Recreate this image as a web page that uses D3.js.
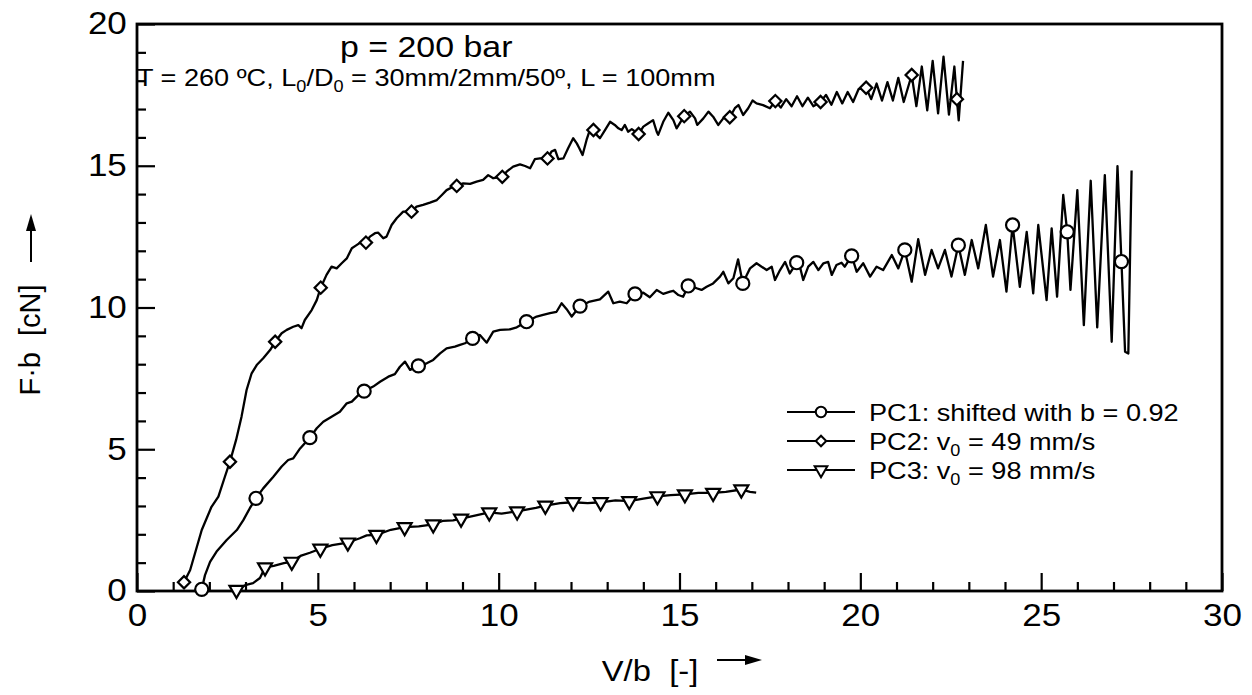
<!DOCTYPE html>
<html><head><meta charset="utf-8">
<script src="https://cdn.jsdelivr.net/npm/d3@7"></script>
<style>
body{margin:0;background:#fff;}
svg{display:block;font-family:"Liberation Sans",Arial,Helvetica,sans-serif;}
</style></head>
<body>
<svg id="chart" width="1252" height="695"></svg>
<script>
// ---------------- data ----------------
const xTicks = [0,5,10,15,20,25,30];
const yTicks = [0,5,10,15,20];
const legendLabels = ["PC1: shifted with b = 0.92","PC2: v","PC3: v"];

const pc1Line = [[1.79,0.06],[1.88,0.56],[2.02,1.03],[2.20,1.39],[2.48,1.80],[2.76,2.15],[2.94,2.50],[3.12,2.92],[3.29,3.27],[3.49,3.62],[3.77,4.03],[4.00,4.39],[4.18,4.62],[4.32,4.68],[4.51,5.03],[4.78,5.41],[4.97,5.74],[5.15,5.97],[5.38,6.15],[5.61,6.32],[5.80,6.62],[5.94,6.68],[6.12,6.91],[6.28,7.05],[6.53,7.21],[6.72,7.38],[6.95,7.56],[7.13,7.65],[7.27,7.91],[7.41,8.09],[7.55,7.80],[7.78,7.94],[8.01,8.03],[8.19,8.15],[8.38,8.38],[8.56,8.56],[8.79,8.62],[8.93,8.68],[9.07,8.74],[9.28,8.91],[9.48,9.03],[9.67,8.76],[9.85,9.15],[10.04,9.21],[10.31,9.23],[10.50,9.30],[10.77,9.50],[11.05,9.68],[11.23,9.74],[11.42,9.80],[11.60,9.85],[11.74,10.15],[11.88,9.94],[12.02,9.68],[12.25,10.05],[12.52,10.21],[12.80,10.29],[13.03,10.56],[13.17,10.15],[13.35,10.21],[13.54,10.15],[13.77,10.48],[14.00,10.52],[14.18,10.36],[14.37,10.62],[14.55,10.48],[14.74,10.56],[14.83,10.59],[14.97,10.44],[15.10,10.38],[15.24,10.76],[15.47,10.68],[15.61,10.62],[15.75,10.73],[15.93,10.85],[16.12,11.09],[16.21,11.26],[16.35,10.85],[16.49,11.03],[16.62,11.70],[16.75,10.85],[16.86,11.15],[16.95,11.38],[17.13,11.56],[17.41,11.32],[17.55,11.44],[17.64,10.97],[17.78,11.32],[17.92,11.61],[18.05,11.20],[18.24,11.58],[18.33,11.44],[18.42,10.97],[18.56,11.44],[18.70,11.61],[18.84,11.32],[18.98,11.56],[19.11,11.61],[19.21,11.15],[19.34,11.50],[19.48,11.58],[19.57,11.44],[19.76,11.82],[19.90,11.26],[20.08,11.56],[20.27,11.09],[20.45,11.44],[20.63,11.32],[20.87,11.85],[21.05,11.38],[21.23,12.03],[21.42,10.91],[21.60,12.41],[21.79,11.15],[21.97,12.03],[22.15,11.38],[22.34,12.03],[22.52,11.09],[22.71,12.20],[22.89,11.15],[23.08,12.38],[23.26,11.38],[23.47,12.91],[23.67,11.09],[23.86,12.38],[24.04,10.56],[24.21,12.91],[24.41,10.73],[24.60,12.67],[24.78,10.50],[24.92,12.91],[25.15,10.26],[25.29,12.79],[25.44,10.38],[25.61,13.97],[25.72,12.67],[25.81,10.62],[26.00,14.14],[26.18,9.38],[26.37,14.47],[26.55,9.30],[26.76,14.67],[26.95,8.79],[27.11,14.99],[27.22,11.62],[27.32,8.44],[27.41,8.38],[27.50,14.83]];
const pc1Markers = [[1.79,0.06],[3.29,3.27],[4.78,5.41],[6.28,7.05],[7.78,7.94],[9.28,8.91],[10.77,9.50],[12.25,10.05],[13.77,10.48],[15.24,10.76],[16.75,10.85],[18.24,11.58],[19.76,11.82],[21.23,12.03],[22.71,12.20],[24.21,12.91],[25.72,12.67],[27.22,11.62]];

const pc2Line = [[1.30,0.31],[1.47,0.74],[1.79,2.15],[2.06,2.97],[2.25,3.33],[2.43,4.03],[2.57,4.56],[2.74,5.33],[2.89,6.15],[3.03,7.09],[3.17,7.68],[3.31,7.97],[3.49,8.21],[3.68,8.50],[3.82,8.79],[4.00,9.09],[4.14,9.21],[4.32,9.32],[4.46,9.38],[4.55,9.27],[4.64,9.56],[4.83,9.91],[4.97,10.26],[5.08,10.70],[5.24,11.15],[5.38,11.44],[5.52,11.38],[5.66,11.56],[5.80,11.73],[5.94,12.09],[6.07,12.20],[6.21,12.32],[6.33,12.29],[6.44,12.50],[6.58,12.62],[6.67,12.64],[6.81,12.44],[6.90,12.50],[7.04,12.91],[7.18,13.15],[7.36,13.38],[7.59,13.38],[7.73,13.56],[7.91,13.62],[8.10,13.70],[8.29,13.79],[8.43,13.97],[8.56,14.14],[8.74,14.26],[8.84,14.29],[9.02,14.38],[9.21,14.36],[9.39,14.44],[9.57,14.50],[9.71,14.67],[9.85,14.56],[10.10,14.61],[10.22,14.79],[10.40,14.97],[10.59,15.05],[10.73,14.99],[10.87,14.91],[11.00,15.23],[11.14,15.26],[11.35,15.26],[11.46,15.50],[11.56,15.56],[11.65,15.23],[11.79,15.26],[11.92,15.62],[12.06,15.97],[12.16,15.79],[12.23,15.62],[12.32,15.38],[12.43,15.91],[12.52,16.26],[12.62,16.26],[12.71,16.09],[12.80,15.97],[12.94,16.26],[13.08,16.55],[13.21,16.44],[13.31,16.32],[13.40,16.26],[13.49,16.44],[13.58,16.20],[13.68,16.29],[13.87,16.12],[14.00,16.38],[14.14,16.50],[14.27,16.61],[14.37,16.20],[14.41,16.09],[14.55,16.55],[14.69,16.87],[14.83,16.61],[14.92,16.32],[15.06,16.61],[15.13,16.75],[15.29,16.91],[15.43,16.67],[15.49,16.44],[15.66,16.67],[15.80,16.91],[15.93,16.73],[16.07,16.44],[16.21,16.67],[16.39,16.71],[16.53,17.03],[16.63,17.14],[16.76,16.79],[16.90,17.03],[17.02,17.30],[17.13,17.20],[17.31,17.14],[17.50,17.03],[17.65,17.28],[17.80,17.05],[17.95,17.35],[18.10,17.10],[18.25,17.45],[18.40,17.10],[18.55,17.40],[18.70,17.10],[18.90,17.25],[19.05,17.50],[19.20,17.15],[19.35,17.60],[19.50,17.20],[19.65,17.60],[19.80,17.25],[19.95,17.70],[20.16,17.75],[20.30,17.35],[20.45,17.90],[20.60,17.30],[20.75,17.95],[20.90,17.30],[21.05,18.10],[21.20,17.25],[21.42,18.20],[21.55,17.10],[21.70,18.50],[21.85,16.95],[22.00,18.70],[22.15,16.85],[22.30,18.85],[22.45,16.80],[22.60,18.50],[22.67,17.35],[22.72,16.60],[22.84,18.70]];
const pc2Markers = [[1.30,0.31],[2.57,4.56],[3.82,8.79],[5.08,10.70],[6.33,12.29],[7.59,13.38],[8.84,14.29],[10.10,14.61],[11.35,15.26],[12.62,16.26],[13.87,16.12],[15.13,16.75],[16.39,16.71],[17.65,17.28],[18.90,17.25],[20.16,17.75],[21.42,18.20],[22.67,17.35]];

const pc3Line = [[2.75,0.04],[3.02,0.22],[3.21,0.28],[3.40,0.46],[3.54,0.83],[3.78,0.89],[4.06,0.98],[4.28,1.03],[4.54,1.25],[4.78,1.35],[5.07,1.49],[5.40,1.62],[5.83,1.71],[6.16,1.86],[6.35,1.96],[6.62,1.98],[7.02,2.16],[7.40,2.25],[7.79,2.28],[8.19,2.35],[8.45,2.47],[8.74,2.49],[8.96,2.55],[9.31,2.65],[9.74,2.77],[10.08,2.73],[10.51,2.81],[10.84,2.89],[11.03,2.93],[11.29,3.01],[11.70,3.10],[12.06,3.13],[12.46,3.10],[12.82,3.13],[13.23,3.20],[13.61,3.17],[14.00,3.26],[14.39,3.34],[14.75,3.38],[15.15,3.41],[15.52,3.46],[15.93,3.46],[16.28,3.50],[16.71,3.58],[16.95,3.50],[17.12,3.47]];
const pc3Markers = [[2.75,0.04],[3.54,0.83],[4.28,1.03],[5.07,1.49],[5.83,1.71],[6.62,1.98],[7.40,2.25],[8.19,2.35],[8.96,2.55],[9.74,2.77],[10.51,2.81],[11.29,3.01],[12.06,3.13],[12.82,3.13],[13.61,3.17],[14.39,3.34],[15.15,3.41],[15.93,3.46],[16.71,3.58]];

// ---------------- drawing ----------------
const svg = d3.select("#chart");
const L = 137, R = 1222, T = 24, B = 591;
const SX = 1.13; // horizontal text stretch of the original
const x = d3.scaleLinear().domain([0,30]).range([L,R]);
const y = d3.scaleLinear().domain([0,20]).range([B,T]);

// minor ticks
const xMinor = d3.range(0,31,1).filter(v=>v%5!==0);
const yMinor = d3.range(0,21,1).filter(v=>v%5!==0);

const gxm = svg.append("g").attr("transform",`translate(0,${B})`)
  .call(d3.axisBottom(x).tickValues(xMinor).tickSize(-9).tickFormat(""));
const gym = svg.append("g").attr("transform",`translate(${L},0)`)
  .call(d3.axisLeft(y).tickValues(yMinor).tickSize(-9).tickFormat(""));
const gx = svg.append("g").attr("transform",`translate(0,${B})`)
  .call(d3.axisBottom(x).tickValues(xTicks).tickSize(-18).tickPadding(13).tickFormat(d3.format("d")));
const gy = svg.append("g").attr("transform",`translate(${L},0)`)
  .call(d3.axisLeft(y).tickValues(yTicks).tickSize(-18).tickPadding(9).tickFormat(d3.format("d")));
[gxm,gym,gx,gy].forEach(g=>{
  g.select(".domain").remove();
  g.selectAll("line").attr("stroke","#000").attr("stroke-width",2.2);
});
[gx,gy].forEach(g=>g.selectAll("text").attr("font-size",31).attr("fill","#000")
  .attr("font-family","Liberation Sans, Arial, sans-serif")
  .attr("transform",`scale(${SX},1)`));

// frame
svg.append("rect").attr("x",L).attr("y",T).attr("width",R-L).attr("height",B-T)
  .attr("fill","none").attr("stroke","#000").attr("stroke-width",2.8);

// lines
const line = d3.line().x(d=>x(d[0])).y(d=>y(d[1]));
[pc1Line,pc2Line,pc3Line].forEach(data=>{
  svg.append("path").datum(data).attr("d",line)
    .attr("fill","none").attr("stroke","#000").attr("stroke-width",2.3).attr("stroke-linejoin","round");
});

// markers
const symCircle = d3.symbol().type(d3.symbolCircle).size(135);
const symDiamond = d3.symbol().type(d3.symbolSquare).size(75);
const symTri = d3.symbol().type(d3.symbolTriangle).size(85);
function drawMarkers(data, sym, rot){
  svg.append("g").selectAll("path").data(data).join("path")
    .attr("d",sym)
    .attr("transform",d=>`translate(${x(d[0])},${y(d[1])}) rotate(${rot})`)
    .attr("fill","#fff").attr("stroke","#000").attr("stroke-width",2.2);
}
drawMarkers(pc1Markers, symCircle, 0);
drawMarkers(pc2Markers, symDiamond, 45);
drawMarkers(pc3Markers, symTri, 180);

// text helper
function txt(px,py,size,anchor,rot){
  const g = svg.append("g").attr("transform",`translate(${px},${py})${rot?` rotate(${rot})`:""}`);
  return g.append("text").attr("font-size",size).attr("text-anchor",anchor||"start")
    .attr("transform",rot?null:`scale(${SX},1)`).attr("fill","#000");
}

// title lines
txt(340,57,30).text("p = 200 bar");
const st = txt(137,86,24);
st.append("tspan").text("T = 260 \u00BAC, L");
st.append("tspan").attr("font-size",16).attr("dy",6).text("0");
st.append("tspan").attr("dy",-6).text("/D");
st.append("tspan").attr("font-size",16).attr("dy",6).text("0");
st.append("tspan").attr("dy",-6).text(" = 30mm/2mm/50\u00BA, L = 100mm");

// legend
const legY = [412,441,470];
const legSyms = [[symCircle,0],[symDiamond,45],[symTri,180]];
legY.forEach((ly,i)=>{
  svg.append("line").attr("x1",787).attr("x2",855).attr("y1",ly).attr("y2",ly)
    .attr("stroke","#000").attr("stroke-width",2.2);
  svg.append("path").attr("d",d3.symbol().type([d3.symbolCircle,d3.symbolSquare,d3.symbolTriangle][i]).size([85,55,70][i]))
    .attr("transform",`translate(821,${ly}) rotate(${legSyms[i][1]})`)
    .attr("fill","#fff").attr("stroke","#000").attr("stroke-width",2);
  const t = txt(869,ly+8.5,24);
  t.append("tspan").text(legendLabels[i]);
  if(i>0){
    t.append("tspan").attr("font-size",16).attr("dy",6).text("0");
    t.append("tspan").attr("dy",-6).text(i===1?" = 49 mm/s":" = 98 mm/s");
  }
});

// axis titles
const xt = txt(650,681,29,"middle");
xt.text("V/b\u00A0\u00A0[-]");
svg.append("line").attr("x1",717).attr("x2",752).attr("y1",660).attr("y2",660)
  .attr("stroke","#000").attr("stroke-width",2);
svg.append("path").attr("d","M762,660 L745,655 L745,665 Z").attr("fill","#000");

const yt = txt(40,340,29,"middle",-90);
yt.text("F\u00B7b\u00A0\u00A0[cN]");
svg.append("line").attr("x1",31).attr("x2",31).attr("y1",262).attr("y2",224)
  .attr("stroke","#000").attr("stroke-width",2);
svg.append("path").attr("d","M31,214 L26,231 L36,231 Z").attr("fill","#000");
</script>
</body></html>
